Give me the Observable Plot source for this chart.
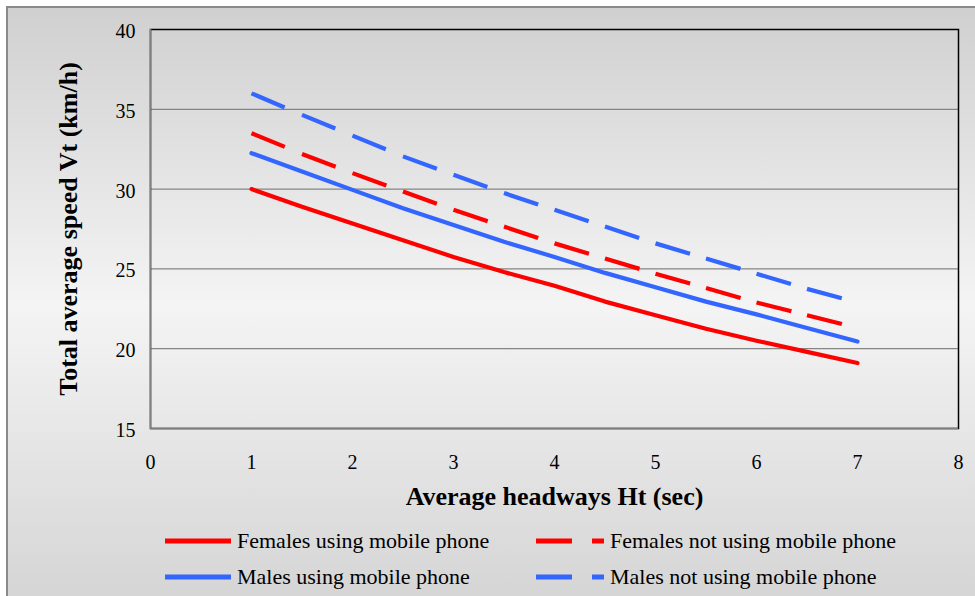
<!DOCTYPE html>
<html><head><meta charset="utf-8">
<script src="https://cdn.jsdelivr.net/npm/d3@7"></script>
<script src="https://cdn.jsdelivr.net/npm/@observablehq/plot@0.6"></script>
<style>
html,body{margin:0;padding:0;width:975px;height:596px;overflow:hidden;font-family:"Liberation Serif","Times New Roman",serif;}
#bg{position:absolute;left:6px;top:6px;width:1000px;height:620px;border-left:2px solid #8a8a8a;border-top:2px solid #8a8a8a;background:linear-gradient(#d0d0d0 0%,#f4f4f4 48%,#d2d2d2 100%);}
#chart{position:absolute;left:0;top:0;}
#legend{position:absolute;left:0;top:0;width:975px;font-size:22px;color:#000;}
.item{position:absolute;display:flex;align-items:center;height:30px;}
.item svg{margin-right:6px;}
</style></head>
<body>
<div id="bg"></div>
<div id="chart"></div>
<div id="legend"></div>
<script>
const headways = [1, 1.5, 2, 2.5, 3, 3.5, 4, 4.5, 5, 5.5, 6, 6.5, 7];
const femalesUsing    = [30.0, 28.9, 27.85, 26.8, 25.75, 24.8, 23.95, 22.95, 22.1, 21.25, 20.5, 19.8, 19.1];
const malesUsing      = [32.25, 31.1, 29.95, 28.8, 27.75, 26.7, 25.75, 24.75, 23.85, 22.95, 22.15, 21.3, 20.45];
const femalesNotUsing = [33.5, 32.2, 31.0, 29.85, 28.7, 27.65, 26.6, 25.65, 24.7, 23.8, 22.9, 22.1, 21.3];
const malesNotUsing   = [36.0, 34.65, 33.35, 32.05, 30.9, 29.75, 28.7, 27.65, 26.6, 25.65, 24.7, 23.75, 22.9];
const xTicks = [0, 1, 2, 3, 4, 5, 6, 7, 8];
const yTicks = [15, 20, 25, 30, 35, 40];
const seriesNames = ["Females using mobile phone", "Females not using mobile phone", "Males using mobile phone", "Males not using mobile phone"];
const xTitle = "Average headways Ht (sec)";
const yTitle = "Total average speed Vt (km/h)";

const RED = "#ff0000", BLUE = "#3366ff";
const series = [
  {name: seriesNames[0], values: femalesUsing, color: RED, dashed: false},
  {name: seriesNames[1], values: femalesNotUsing, color: RED, dashed: true},
  {name: seriesNames[2], values: malesUsing, color: BLUE, dashed: false},
  {name: seriesNames[3], values: malesNotUsing, color: BLUE, dashed: true}
];
const toPoints = s => headways.map((h, i) => ({x: h, y: s.values[i], name: s.name}));
const toSegments = s => headways.slice(1).map((h, i) => ({x1: headways[i], y1: s.values[i], x2: h, y2: s.values[i + 1]}));

const marks = [
  Plot.ruleY(yTicks.filter(v => v > 15 && v < 40), {stroke: "#858585", strokeWidth: 1.3}),
  Plot.frame({stroke: "#000", strokeWidth: 1.5}),
  Plot.ruleX([0], {stroke: "#808080", strokeWidth: 1.5}),
  Plot.ruleY([15], {stroke: "#808080", strokeWidth: 1.5}),
  Plot.axisX({ticks: xTicks, tickSize: 0, tickPadding: 26, label: null, fontSize: 20}),
  Plot.axisY({ticks: yTicks, tickSize: 0, tickPadding: 15, label: null, fontSize: 20, dy: 2}),
  Plot.text([xTitle], {frameAnchor: "bottom", dy: 68, lineAnchor: "middle", textAnchor: "middle", fontWeight: "bold", fontSize: 26, letterSpacing: "0.3px"}),
  Plot.text([yTitle], {frameAnchor: "left", dx: -82, rotate: -90, lineAnchor: "middle", textAnchor: "middle", fontWeight: "bold", fontSize: 26})
];
for (const s of series) {
  if (s.dashed) {
    marks.push(Plot.link(toSegments(s), {x1: "x1", y1: "y1", x2: "x2", y2: "y2", stroke: s.color, strokeWidth: 4.2, strokeDasharray: "36,40", strokeLinecap: "butt"}));
  } else {
    marks.push(Plot.line(toPoints(s), {x: "x", y: "y", stroke: s.color, strokeWidth: 4.2, strokeLinejoin: "round"}));
  }
}

const chart = Plot.plot({
  width: 975, height: 520,
  marginLeft: 150, marginRight: 17, marginTop: 29, marginBottom: 92,
  x: {domain: [0, 8]},
  y: {domain: [15, 40]},
  style: {background: "transparent", fontFamily: "'Liberation Serif','Times New Roman',serif", color: "#000"},
  marks
});
document.getElementById("chart").appendChild(chart);

// legend
const legend = document.getElementById("legend");
const pos = [[165, 526], [536, 526], [165, 562], [536, 562]];
series.forEach((s, i) => {
  const d = document.createElement("div");
  d.className = "item";
  d.style.left = pos[i][0] + "px";
  d.style.top = pos[i][1] + "px";
  const sw = s.dashed
    ? `<svg width="68" height="10"><line x1="0" y1="5" x2="36" y2="5" stroke="${s.color}" stroke-width="5"/><line x1="56" y1="5" x2="68" y2="5" stroke="${s.color}" stroke-width="5"/></svg>`
    : `<svg width="66" height="10"><line x1="0" y1="5" x2="66" y2="5" stroke="${s.color}" stroke-width="5"/></svg>`;
  d.innerHTML = sw + `<span>${s.name}</span>`;
  legend.appendChild(d);
});
</script>
</body></html>
